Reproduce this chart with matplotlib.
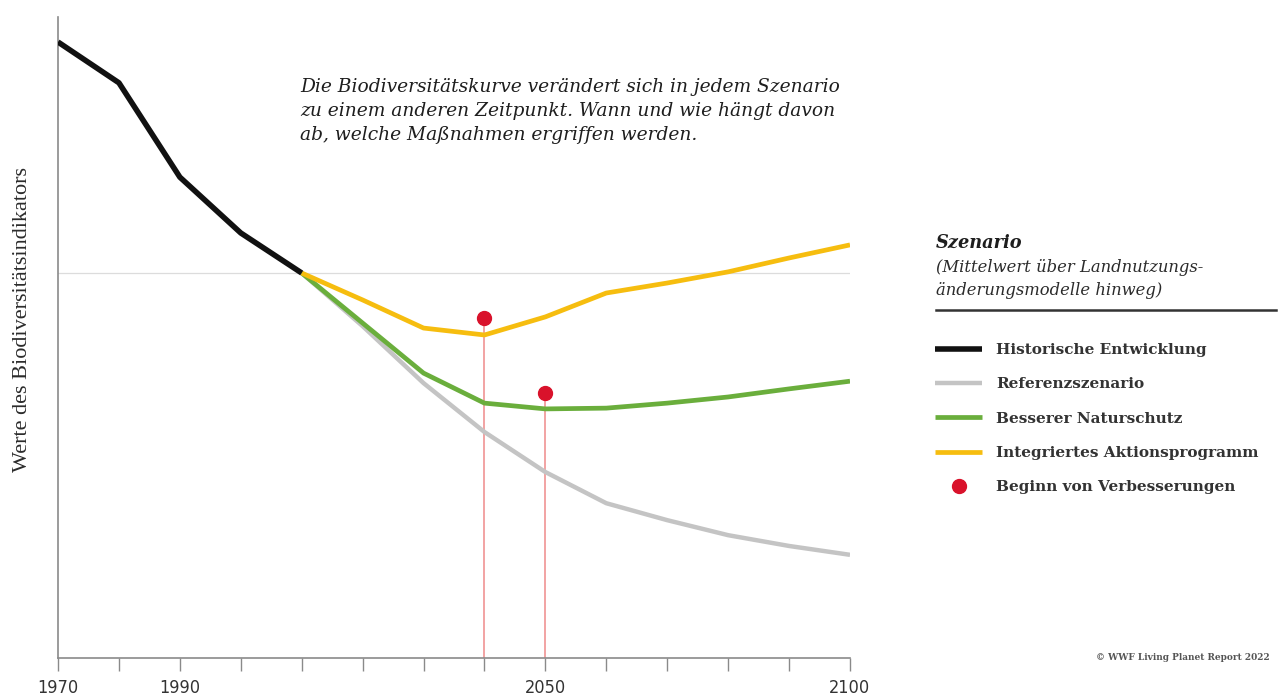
import matplotlib
matplotlib.use('Agg')
import matplotlib.pyplot as plt
from matplotlib.lines import Line2D

# data (index values, 2010 = 1.0)
hist_years = [1970, 1980, 1990, 2000, 2010]
hist_values = [1.60, 1.494, 1.249, 1.104, 1.0]

proj_years = [2010, 2020, 2030, 2040, 2050, 2060, 2070, 2080, 2090, 2100]
reference = [1.0, 0.862, 0.714, 0.587, 0.483, 0.402, 0.358, 0.319, 0.291, 0.268]
conservation = [1.0, 0.870, 0.740, 0.662, 0.647, 0.649, 0.662, 0.678, 0.699, 0.719]
integrated = [1.0, 0.930, 0.857, 0.839, 0.886, 0.948, 0.974, 1.003, 1.039, 1.073]

start_years = [2040, 2050]
start_values = [0.883, 0.688]

baseline = 1.0
tick_years = list(range(1970, 2101, 10))
tick_labels = ['1970', '', '1990', '', '', '', '', '', '2050', '', '', '', '', '2100']

labels = ['Historische Entwicklung', 'Referenzszenario', 'Besserer Naturschutz',
          'Integriertes Aktionsprogramm', 'Beginn von Verbesserungen']

c_black = '#111111'
c_gray = '#c4c4c4'
c_green = '#6aae3c'
c_yellow = '#f6bd0f'
c_red = '#d9122b'
c_redline = '#ef8a8a'
txt = '#2b2b2b'

W, H = 1280, 700
fig = plt.figure(figsize=(W / 100, H / 100), dpi=100)
ax = fig.add_axes([58 / W, 1 - 658 / H, (850 - 58) / W, (658 - 17) / H])

######################
## lines
######################
ax.axhline(baseline, color='#dcdcdc', lw=0.9, zorder=1)
for x, y in zip(start_years, start_values):
    ax.vlines(x, 0, y, color=c_redline, lw=1.1, zorder=1)

l_ref, = ax.plot(proj_years, reference, color=c_gray, lw=3.2, solid_capstyle='butt', zorder=2)
l_con, = ax.plot(proj_years, conservation, color=c_green, lw=3.4, solid_capstyle='butt', zorder=3)
l_int, = ax.plot(proj_years, integrated, color=c_yellow, lw=3.4, solid_capstyle='butt', zorder=4)
l_hist, = ax.plot(hist_years, hist_values, color=c_black, lw=4, solid_capstyle='butt', zorder=5)
pts, = ax.plot(start_years, start_values, 'o', color=c_red, ms=10, ls='none', zorder=6)

ax.set_xlim(1970, 2100)
ax.set_ylim(0, (658 - 17) / 385)

for s in ['top', 'right']:
    ax.spines[s].set_visible(False)
for s in ['left', 'bottom']:
    ax.spines[s].set_color('#8a8a8a')
    ax.spines[s].set_linewidth(1.2)

ax.set_yticks([])
ax.set_xticks(tick_years)
ax.set_xticklabels(tick_labels, family=['Liberation Sans Narrow', 'DejaVu Sans'],
                   fontstretch='condensed', fontsize=13, color='#333333')
ax.tick_params(axis='x', length=9, width=1, color='#8a8a8a', pad=6)

######################
## texts
######################
fig.text(23 / W, 1 - 320 / H, 'Werte des Biodiversitätsindikators', rotation=90,
         ha='center', va='center', family='Liberation Serif', fontsize=16, color=txt)

fig.text(300 / W, 1 - 78 / H,
         'Die Biodiversitätskurve verändert sich in jedem Szenario\n'
         'zu einem anderen Zeitpunkt. Wann und wie hängt davon\n'
         'ab, welche Maßnahmen ergriffen werden.',
         ha='left', va='top', family='DejaVu Serif', style='italic', fontsize=13.4,
         linespacing=1.42, color='#1e1e1e')

fig.text(936 / W, 1 - 243 / H, 'Szenario', ha='left', va='center', family='DejaVu Serif',
         style='italic', weight='bold', fontsize=12.8, color='#1e1e1e')
fig.text(936 / W, 1 - 267 / H, '(Mittelwert über Landnutzungs-', ha='left', va='center',
         family='DejaVu Serif', style='italic', fontsize=11.8, color=txt)
fig.text(936 / W, 1 - 290 / H, 'änderungsmodelle hinweg)', ha='left', va='center',
         family='DejaVu Serif', style='italic', fontsize=11.8, color=txt)
fig.add_artist(Line2D([936 / W, 1276 / W], [1 - 310 / H, 1 - 310 / H],
                      transform=fig.transFigure, color='#333333', lw=1.8))

leg = fig.legend([l_hist, l_ref, l_con, l_int, pts], labels, loc='upper left',
                 bbox_to_anchor=(935 / W, 1 - 343 / H), frameon=False,
                 prop={'family': 'DejaVu Serif', 'size': 11, 'weight': 'semibold'},
                 handlelength=3.1, handletextpad=0.9, labelspacing=1.33,
                 borderpad=0, borderaxespad=0)
for t in leg.get_texts():
    t.set_color('#333333')

fig.text(1270 / W, 1 - 657 / H, '© WWF Living Planet Report 2022', ha='right', va='center',
         family='DejaVu Serif', weight='bold', fontsize=6.5, color='#555555')

plt.savefig('out.png', dpi=100)
